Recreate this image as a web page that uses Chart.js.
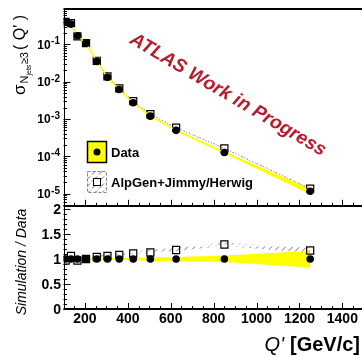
<!DOCTYPE html>
<html>
<head>
<meta charset="utf-8">
<script src="https://cdn.jsdelivr.net/npm/chart.js@4.4.4/dist/chart.umd.min.js"></script>
<style>
  html, body { margin: 0; padding: 0; background: #fff; overflow: hidden; }
  #wrap { position: relative; width: 362px; height: 356px; overflow: hidden; }
  canvas { position: absolute; left: 0; }
  #top { top: 0; }
  #bot { top: 196px; }
</style>
</head>
<body>
<div id="wrap">
  <canvas id="top" width="370" height="212"></canvas>
  <canvas id="bot" width="370" height="160"></canvas>
</div>
<script>
// ---- data ----
const qPrime = [110, 135, 165, 205, 255, 305, 360, 425, 505, 625, 850, 1250];
const dataXsec = [0.41, 0.35, 0.17, 0.108, 0.035, 0.0131, 0.00615, 0.00272, 0.00119, 4.96e-4, 1.26e-4, 1.15e-5];
const mcXsec = [0.40, 0.37, 0.165, 0.108, 0.0364, 0.0139, 0.0066, 0.0030, 0.00134, 5.85e-4, 1.63e-4, 1.35e-5];
// relative uncertainties (yellow band for data, hatched band for simulation)
const dataErrUp = [0.02, 0.02, 0.02, 0.02, 0.02, 0.02, 0.02, 0.025, 0.03, 0.04, 0.07, 0.16];
const dataErrDown = [0.02, 0.02, 0.02, 0.02, 0.02, 0.02, 0.02, 0.025, 0.035, 0.05, 0.06, 0.17];
const mcErrUp = [0.02, 0.02, 0.02, 0.03, 0.03, 0.04, 0.04, 0.04, 0.05, 0.05, 0.04, 0.05];
const mcErrDown = [0.01, 0.01, 0.01, 0.01, 0.01, 0.01, 0.01, 0.01, 0.02, 0.02, 0.03, 0.05];
// ratio panel
const dataRatio = [1, 1, 1, 1, 1, 1, 1, 1, 1, 1, 1, 1];
const mcRatio = [0.97, 1.06, 0.97, 1.0, 1.04, 1.06, 1.08, 1.11, 1.13, 1.18, 1.29, 1.17];
// ticks
const xTickLabels = [200, 400, 600, 800, 1000, 1200, 1400];
const logDecades = [-5, -4, -3, -2, -1];
const ratioTickLabels = [0, 0.5, 1, 1.5, 2];

const FONT = '"Liberation Sans", Arial, Helvetica, sans-serif';
const YELLOW = '#ffff00';

function pts(ys) {
  return qPrime.map(function (q, i) { return { x: q, y: ys[i] }; });
}

function hatchPattern(ctx) {
  const c = document.createElement('canvas');
  c.width = 7; c.height = 7;
  const g = c.getContext('2d');
  g.strokeStyle = '#6e6e6e';
  g.lineWidth = 1;
  g.beginPath();
  g.moveTo(1, 6.5); g.lineTo(6, 1.5);
  g.stroke();
  return ctx.createPattern(c, 'repeat');
}

// inward tick marks along the bottom x axis
function drawXTicks(chart) {
  const ctx = chart.ctx, a = chart.chartArea, x = chart.scales.x;
  ctx.beginPath();
  for (let q = 100; q <= 1500; q += 50) {
    const px = Math.round(x.getPixelForValue(q)) + 0.5;
    const len = q % 200 === 0 ? 6 : 3;
    ctx.moveTo(px, a.bottom); ctx.lineTo(px, a.bottom - len);
  }
  ctx.stroke();
}

const sharedOpts = {
  responsive: false,
  animation: false,
  devicePixelRatio: 1,
  events: [],
  plugins: { legend: { display: false }, tooltip: { enabled: false } },
  elements: { line: { tension: 0 } },
};

// ---------------- top panel ----------------
const topCanvas = document.getElementById('top');
const topPattern = hatchPattern(topCanvas.getContext('2d'));

const topDecor = {
  id: 'topDecor',
  afterDraw: function (chart) {
    const ctx = chart.ctx, a = chart.chartArea, y = chart.scales.y;
    ctx.save();
    ctx.strokeStyle = '#000';
    ctx.fillStyle = '#000';
    ctx.lineWidth = 1;

    // frame
    ctx.beginPath();
    ctx.moveTo(Math.round(a.left) + 0.5, a.top);
    ctx.lineTo(Math.round(a.left) + 0.5, a.bottom);
    ctx.moveTo(a.left, Math.round(a.bottom) - 0.5);
    ctx.lineTo(a.right, Math.round(a.bottom) - 0.5);
    ctx.stroke();
    ctx.lineWidth = 2;
    ctx.beginPath();
    ctx.moveTo(a.left, Math.round(a.top));
    ctx.lineTo(a.right, Math.round(a.top));
    ctx.stroke();
    ctx.lineWidth = 1;

    drawXTicks(chart);

    // log y ticks
    ctx.beginPath();
    for (let d = -6; d <= 0; d++) {
      for (let k = 1; k <= 9; k++) {
        const v = k * Math.pow(10, d);
        if (v < y.min || v > y.max) continue;
        const py = Math.round(y.getPixelForValue(v)) + 0.5;
        const len = k === 1 ? 7 : 3.5;
        ctx.moveTo(a.left, py); ctx.lineTo(a.left + len, py);
      }
    }
    ctx.stroke();

    // y tick labels 10^n
    logDecades.forEach(function (d) {
      const py = y.getPixelForValue(Math.pow(10, d));
      const exp = String(d);
      ctx.font = 'bold 10px ' + FONT;
      const ew = ctx.measureText(exp).width;
      ctx.textAlign = 'left';
      ctx.textBaseline = 'alphabetic';
      ctx.fillText(exp, 60 - ew, py);
      ctx.font = 'bold 12px ' + FONT;
      ctx.textAlign = 'right';
      ctx.textBaseline = 'middle';
      ctx.fillText('10', 60 - ew - 0.5, py + 1);
    });

    // y axis title: sigma_{N_jets>=3}( Q' )
    ctx.save();
    ctx.translate(25, 95);
    ctx.rotate(-Math.PI / 2);
    ctx.textAlign = 'left';
    ctx.textBaseline = 'alphabetic';
    let cx = 0;
    ctx.font = '17px ' + FONT;
    ctx.fillText('σ', cx, 0);
    cx += ctx.measureText('σ').width + 1;
    ctx.font = '11px ' + FONT;
    ctx.fillText('N', cx, 3);
    cx += ctx.measureText('N').width;
    ctx.font = '7px ' + FONT;
    ctx.fillText('jets', cx, 6);
    cx += ctx.measureText('jets').width + 0.5;
    ctx.font = '11px ' + FONT;
    ctx.fillText('≥3', cx, 3);
    cx += ctx.measureText('≥3').width + 2;
    ctx.font = '16px ' + FONT;
    ctx.fillText('( Q\' )', cx, 0);
    ctx.restore();

    // ATLAS label
    ctx.save();
    ctx.translate(228, 95);
    ctx.rotate(30.5 * Math.PI / 180);
    ctx.font = 'italic bold 19px ' + FONT;
    ctx.fillStyle = '#b71c2c';
    ctx.textAlign = 'center';
    ctx.textBaseline = 'middle';
    ctx.fillText('ATLAS Work in Progress', 0, 0);
    ctx.restore();

    // legend
    ctx.fillStyle = YELLOW;
    ctx.fillRect(87.5, 141.5, 19, 21);
    ctx.lineWidth = 1.5;
    ctx.strokeStyle = '#000';
    ctx.strokeRect(87.5, 141.5, 19, 21);
    ctx.fillStyle = '#000';
    ctx.beginPath();
    ctx.arc(97, 152, 3.5, 0, Math.PI * 2);
    ctx.fill();

    ctx.fillStyle = topPattern;
    ctx.fillRect(87, 171, 20, 21);
    ctx.setLineDash([3, 2]);
    ctx.strokeStyle = '#808080';
    ctx.lineWidth = 1;
    ctx.strokeRect(87.5, 171.5, 19, 21);
    ctx.setLineDash([]);
    ctx.fillStyle = '#fff';
    ctx.fillRect(93.5, 178.5, 7, 7);
    ctx.strokeStyle = '#000';
    ctx.strokeRect(93.5, 178.5, 7, 7);

    ctx.fillStyle = '#000';
    ctx.font = 'bold 13px ' + FONT;
    ctx.textAlign = 'left';
    ctx.textBaseline = 'middle';
    ctx.fillText('Data', 111, 153);
    ctx.fillText('AlpGen+Jimmy/Herwig', 111, 183);
    ctx.restore();
  }
};

new Chart(topCanvas, {
  type: 'line',
  data: {
    datasets: [
      { data: pts(dataXsec.map(function (v, i) { return v * (1 + dataErrUp[i]); })),
        borderWidth: 0, pointRadius: 0, fill: '+1', backgroundColor: YELLOW, order: 5 },
      { data: pts(dataXsec.map(function (v, i) { return v * (1 - dataErrDown[i]); })),
        borderWidth: 0, pointRadius: 0, fill: false, order: 5 },
      { data: pts(mcXsec.map(function (v, i) { return v * (1 + mcErrUp[i]); })),
        borderWidth: 0, pointRadius: 0, fill: '+1', backgroundColor: topPattern, order: 4 },
      { data: pts(mcXsec.map(function (v, i) { return v * (1 - mcErrDown[i]); })),
        borderWidth: 0, pointRadius: 0, fill: false, order: 4 },
      { label: 'AlpGen+Jimmy/Herwig', data: pts(mcXsec),
        borderColor: '#7a7a7a', borderWidth: 1, borderDash: [1, 2], fill: false,
        pointStyle: 'rect', pointRadius: 5, pointBorderColor: '#000',
        pointBackgroundColor: 'rgba(255,255,255,0)', pointBorderWidth: 1.2, order: 1 },
      { label: 'Data', data: pts(dataXsec),
        borderColor: YELLOW, borderWidth: 1.5, fill: false,
        pointStyle: 'circle', pointRadius: 3.8, pointBorderWidth: 0,
        pointBackgroundColor: '#000', order: 0 }
    ]
  },
  options: Object.assign({}, sharedOpts, {
    layout: { padding: { left: 63.5, right: 4.3, top: 9, bottom: 6 } },
    scales: {
      x: { type: 'linear', min: 100, max: 1500, display: false },
      y: { type: 'logarithmic', min: 4.7e-6, max: 0.89, display: false }
    }
  }),
  plugins: [topDecor]
});

// ---------------- ratio panel ----------------
const botCanvas = document.getElementById('bot');
const botPattern = hatchPattern(botCanvas.getContext('2d'));

const botDecor = {
  id: 'botDecor',
  afterDraw: function (chart) {
    const ctx = chart.ctx, a = chart.chartArea, y = chart.scales.y, x = chart.scales.x;
    ctx.save();
    ctx.strokeStyle = '#000';
    ctx.fillStyle = '#000';
    ctx.lineWidth = 1;

    ctx.beginPath();
    ctx.moveTo(a.left, Math.round(a.top) + 0.5);
    ctx.lineTo(a.right, Math.round(a.top) + 0.5);
    ctx.moveTo(Math.round(a.left) + 0.5, a.top);
    ctx.lineTo(Math.round(a.left) + 0.5, a.bottom);
    ctx.stroke();
    ctx.lineWidth = 2;
    ctx.beginPath();
    ctx.moveTo(a.left, Math.round(a.bottom));
    ctx.lineTo(a.right, Math.round(a.bottom));
    ctx.stroke();
    ctx.lineWidth = 1;

    drawXTicks(chart);

    ctx.beginPath();
    for (let t = 0; t <= 20; t++) {
      const py = Math.round(y.getPixelForValue(t / 10)) + 0.5;
      const len = t % 5 === 0 ? 7 : 3.5;
      ctx.moveTo(a.left, py); ctx.lineTo(a.left + len, py);
    }
    ctx.stroke();

    ctx.font = 'bold 14px ' + FONT;
    ctx.textAlign = 'right';
    ctx.textBaseline = 'middle';
    ratioTickLabels.forEach(function (v) {
      ctx.fillText(String(v), 61, y.getPixelForValue(v) + 1);
    });
    ctx.textAlign = 'center';
    xTickLabels.forEach(function (v) {
      ctx.fillText(String(v), x.getPixelForValue(v), 123);
    });

    // y title
    ctx.save();
    ctx.translate(26, 66);
    ctx.rotate(-Math.PI / 2);
    ctx.font = 'italic 14px ' + FONT;
    ctx.textAlign = 'center';
    ctx.textBaseline = 'alphabetic';
    ctx.fillText('Simulation / Data', 0, 0);
    ctx.restore();

    // x title
    ctx.textBaseline = 'alphabetic';
    ctx.textAlign = 'right';
    ctx.font = 'bold 20px ' + FONT;
    ctx.fillText('[GeV/c]', 360, 155);
    const uw = ctx.measureText('[GeV/c]').width;
    ctx.font = 'italic 20px ' + FONT;
    ctx.fillText('Q\'', 360 - uw - 6, 155);
    ctx.restore();
  }
};

new Chart(botCanvas, {
  type: 'line',
  data: {
    datasets: [
      { data: pts(dataRatio.map(function (v, i) { return v + dataErrUp[i]; })),
        borderWidth: 0, pointRadius: 0, fill: '+1', backgroundColor: YELLOW, order: 5 },
      { data: pts(dataRatio.map(function (v, i) { return v - dataErrDown[i]; })),
        borderWidth: 0, pointRadius: 0, fill: false, order: 5 },
      { data: pts(mcRatio.map(function (v, i) { return v + mcErrUp[i]; })),
        borderWidth: 0, pointRadius: 0, fill: '+1', backgroundColor: botPattern, order: 4 },
      { data: pts(mcRatio.map(function (v, i) { return v - mcErrDown[i]; })),
        borderWidth: 0, pointRadius: 0, fill: false, order: 4 },
      { label: 'AlpGen+Jimmy/Herwig', data: pts(mcRatio), showLine: false,
        pointStyle: 'rect', pointRadius: 5, pointBorderColor: '#000',
        pointBackgroundColor: 'rgba(255,255,255,0)', pointBorderWidth: 1.2, order: 1 },
      { label: 'Data', data: pts(dataRatio), showLine: false,
        pointStyle: 'circle', pointRadius: 3.8, pointBorderWidth: 0,
        pointBackgroundColor: '#000', order: 0 }
    ]
  },
  options: Object.assign({}, sharedOpts, {
    layout: { padding: { left: 63.5, right: 4.3, top: 10, bottom: 47 } },
    scales: {
      x: { type: 'linear', min: 100, max: 1500, display: false },
      y: { type: 'linear', min: 0, max: 2.06, display: false }
    }
  }),
  plugins: [botDecor]
});
</script>
</body>
</html>
